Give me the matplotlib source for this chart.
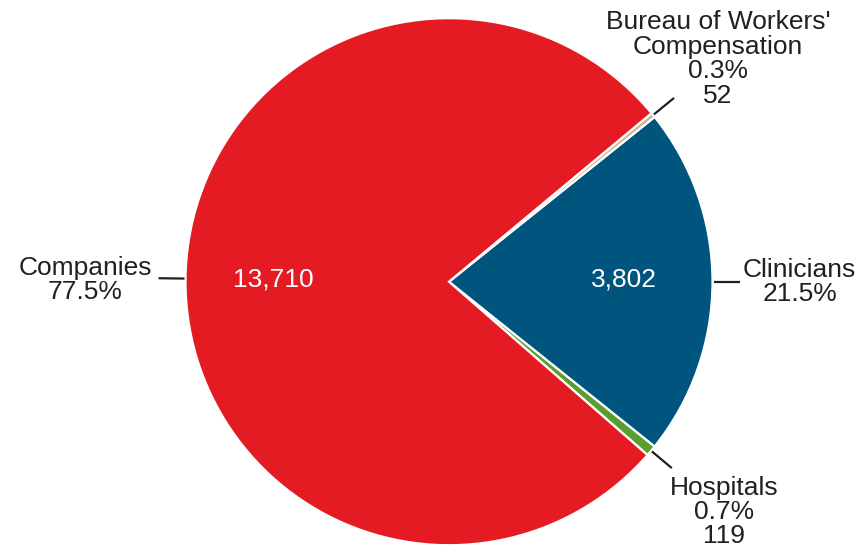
import numpy as np
import matplotlib.pyplot as plt

plt.rcParams['font.family'] = ['Liberation Sans', 'DejaVu Sans']

# slices in counter-clockwise drawing order
names = ["Hospitals", "Clinicians", "Bureau of Workers'\nCompensation", "Companies"]
values = [119, 3802, 52, 13710]
colors = ["#5a9e2e", "#00557f", "#d2b48c", "#e41b23"]

total = sum(values)
pcts = [v / total * 100 for v in values]

W, H = 860, 552
cx, cy, R = 449, H - 281.7, 263.5

fig = plt.figure(figsize=(W / 100, H / 100), dpi=100)
ax = fig.add_axes([0, 0, 1, 1])

# centre Clinicians on 0 degrees
start = -(pcts[0] + pcts[1] / 2) * 3.6
wedges, _ = ax.pie(values, colors=colors, startangle=start, counterclock=True,
                   center=(cx, cy), radius=R,
                   wedgeprops=dict(edgecolor="white", linewidth=1.6))
ax.set_xlim(0, W)
ax.set_ylim(0, H)
ax.set_aspect("equal")
ax.axis("off")

fs = 19
tc = "#231f20"
# leader lines from the edge of each slice
for w in wedges:
    mid = np.deg2rad((w.theta1 + w.theta2) / 2)
    r0, r1 = R + 1, R + 27
    ax.plot([cx + r0 * np.cos(mid), cx + r1 * np.cos(mid)],
            [cy + r0 * np.sin(mid), cy + r1 * np.sin(mid)],
            color=tc, lw=1.6, solid_capstyle="butt")

# outside labels
ax.text(152, H - 280, f"{names[3]}\n{pcts[3]:.1f}%", ha="right", va="center",
        ma="center", fontsize=fs, color=tc, linespacing=1.02)
ax.text(743, H - 282, f"{names[1]}\n{pcts[1]:.1f}%", ha="left", va="center",
        ma="center", fontsize=fs, color=tc, linespacing=1.02)
ax.text(724, H - 512, f"{names[0]}\n{pcts[0]:.1f}%\n{values[0]}", ha="center",
        va="center", fontsize=fs, color=tc, linespacing=1.02)
ax.text(718, H - 59, f"{names[2]}\n{pcts[2]:.1f}%\n{values[2]}", ha="center",
        va="center", fontsize=fs, color=tc, linespacing=1.02)

# value labels inside the big slices
ax.text(273, H - 280, f"{values[3]:,}", ha="center", va="center",
        fontsize=fs, color="white")
ax.text(624, H - 280, f"{values[1]:,}", ha="center", va="center",
        fontsize=fs, color="white")

fig.savefig("out.png", dpi=100)
